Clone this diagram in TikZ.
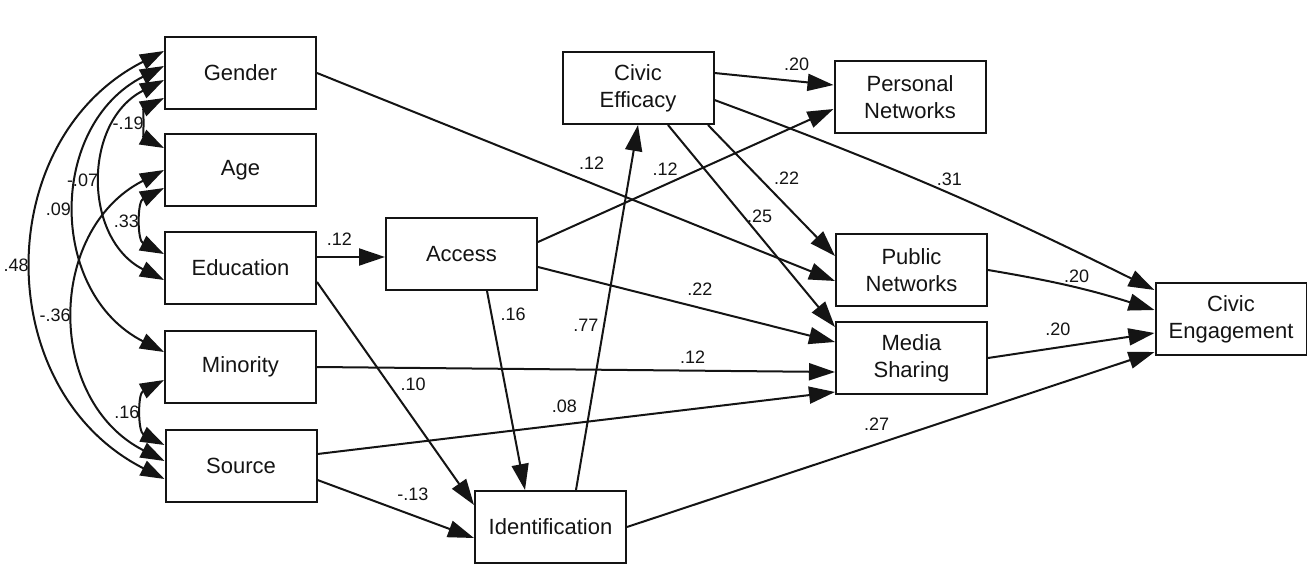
\documentclass[tikz,border=0pt]{standalone}
\usepackage{fontspec}
\setmainfont{Liberation Sans}
\usetikzlibrary{arrows.meta}
\definecolor{inkblack}{RGB}{20,20,20}
\tikzset{
  varbox/.style={draw=inkblack,line width=1pt,fill=white,
    minimum width=75.5pt,minimum height=36pt,inner sep=2pt,
    align=center,text=inkblack,font=\fontsize{11}{13.5}\selectfont},
  regflow/.style={-{Triangle[length=13pt,width=8.5pt]},line width=1pt,draw=inkblack},
  covflow/.style={{Triangle[length=12pt,width=8pt]}-{Triangle[length=12pt,width=8pt]},
    line width=1pt,draw=inkblack,bend right=63,looseness=1.17},
  lab/.style={font=\fontsize{9}{10}\selectfont,text=inkblack,inner sep=1pt}
}

\begin{document}
\begin{tikzpicture}[x=0.5pt,y=0.5pt]
  \path[use as bounding box,fill=white] (0,0) rectangle (1307,-578);

  \node[varbox] (gender) at (240.5,-73) {Gender};
  \node[varbox] (age) at (240.5,-170) {Age};
  \node[varbox] (edu) at (240.5,-268) {Education};
  \node[varbox] (minority) at (240.5,-367) {Minority};
  \node[varbox] (source) at (241,-466) {Source};
  \node[varbox] (access) at (461.5,-254) {Access};
  \node[varbox] (efficacy) at (638,-88) {Civic\\Efficacy};
  \node[varbox] (ident) at (550.5,-527) {Identification};
  \node[varbox] (personal) at (910,-97) {Personal\\Networks};
  \node[varbox] (public) at (911.5,-270) {Public\\Networks};
  \node[varbox] (media) at (911.5,-358) {Media\\Sharing};
  \node[varbox] (engage) at (1231,-319) {Civic\\Engagement};

  \draw[covflow] ([yshift=11pt]gender.west) to node[lab,left=1pt]{.48} ([yshift=-6.5pt]source.west);
  \draw[covflow] ([yshift=3.5pt]gender.west) to node[lab,left=1.5pt]{.09} ([yshift=7.5pt]minority.west);
  \draw[covflow] ([yshift=-3.5pt]gender.west) to node[lab,left=1pt]{-.07} ([yshift=-6pt]edu.west);
  \draw[covflow] ([yshift=-12.5pt]gender.west) to node[lab,left=1pt]{-.19} ([yshift=11pt]age.west);
  \draw[covflow] (age.west) to node[lab,left=1pt]{-.36} ([yshift=2.5pt]source.west);
  \draw[covflow] ([yshift=-9pt]age.west) to node[lab,left=1pt]{.33} ([yshift=7pt]edu.west);
  \draw[covflow] ([yshift=-6.5pt]minority.west) to node[lab,left=1pt]{.16} ([yshift=10.5pt]source.west);

  \draw[regflow] (gender.east) -- node[lab,pos=0.53,above=5.5pt]{.12} ([yshift=-5.5pt]public.west);
  \draw[regflow] ([yshift=5.5pt]edu.east) -- node[lab,pos=0.33,above=4.3pt]{.12} ([yshift=-1.5pt]access.west);
  \draw[regflow] ([yshift=-7pt]edu.east) -- node[lab,pos=0.46,right=4.2pt]{.10} ([yshift=11pt]ident.west);
  \draw[regflow] ([yshift=6pt]access.east) -- node[lab,pos=0.43,above=3.3pt]{.12} ([yshift=-6pt]personal.west);
  \draw[regflow] ([yshift=-6.5pt]access.east) -- node[lab,pos=0.545,above=4.8pt]{.22} ([yshift=8pt]media.west);
  \draw[regflow] ([xshift=12.75pt]access.south) -- node[lab,pos=0.115,right=3.1pt]{.16} ([xshift=-12.75pt]ident.north);
  \draw[regflow] ([xshift=12.75pt]ident.north) -- node[lab,pos=0.45,left=1.2pt]{.77} (efficacy.south);
  \draw[regflow] (minority.east) -- node[lab,pos=0.725,above=2.1pt]{.12} ([yshift=-7pt]media.west);
  \draw[regflow] ([yshift=6pt]source.east) -- node[lab,pos=0.477,above=4.3pt]{.08} ([yshift=-17pt]media.west);
  \draw[regflow] ([yshift=-7pt]source.east) -- node[lab,pos=0.61,above=5.8pt]{-.13} ([yshift=-5.5pt]ident.west);
  \draw[regflow] ([yshift=7.5pt]efficacy.east) -- node[lab,pos=0.69,above=3.75pt]{.20} ([yshift=6pt]personal.west);
  \draw[regflow] ([yshift=-6pt]efficacy.east) to[bend left=3]
    node[lab,pos=0.53,above=2.5pt]{.31} ([yshift=14.5pt]engage.west);
  \draw[regflow] ([xshift=35pt]efficacy.south) -- node[lab,pos=0.41,right=5.5pt]{.22} ([yshift=7pt]public.west);
  \draw[regflow] ([xshift=15pt]efficacy.south) -- node[lab,pos=0.45,right=0.5pt]{.25} ([yshift=15.5pt]media.west);
  \draw[regflow] (public.east) to[bend left=4]
    node[lab,pos=0.53,above=1pt]{.20} ([yshift=4.5pt]engage.west);
  \draw[regflow] (media.east) -- node[lab,pos=0.42,above=4.6pt]{.20} ([yshift=-7pt]engage.west);
  \draw[regflow] (ident.east) -- node[lab,pos=0.473,above=5.4pt]{.27} ([yshift=-16.5pt]engage.west);
\end{tikzpicture}
\end{document}
